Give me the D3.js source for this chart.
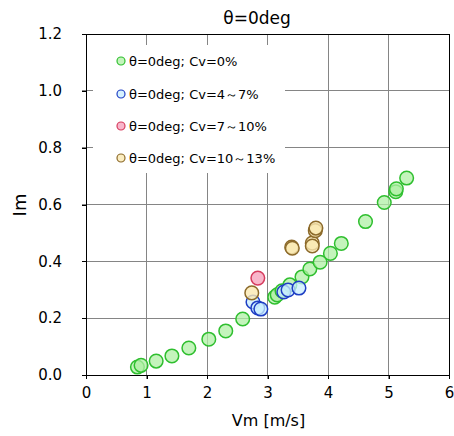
<!DOCTYPE html>
<html>
<head>
<meta charset="utf-8">
<script src="https://cdn.jsdelivr.net/npm/d3@7"></script>
<style>
  html, body { margin: 0; padding: 0; background: #fff; }
  svg { display: block; font-family: "DejaVu Sans", Verdana, sans-serif; }
</style>
</head>
<body>
<svg id="chart" width="454" height="436"></svg>
<script>
// Im vs Vm at θ = 0 deg, grouped by Cv range
const seriesNames = ["θ=0deg; Cv=0%", "θ=0deg; Cv=4～7%", "θ=0deg; Cv=7～10%", "θ=0deg; Cv=10～13%"];

const cv0X  = [0.85, 0.91, 1.16, 1.42, 1.70, 2.03, 2.31, 2.59, 3.12, 3.16, 3.24, 3.37, 3.57, 3.70, 3.87, 4.04, 4.22, 4.62, 4.93, 5.12, 5.13, 5.30];
const cv0Y  = [0.028, 0.034, 0.049, 0.067, 0.095, 0.126, 0.155, 0.197, 0.274, 0.282, 0.296, 0.317, 0.345, 0.373, 0.397, 0.428, 0.463, 0.540, 0.607, 0.645, 0.655, 0.693];

const cv4X  = [2.76, 2.84, 2.89, 3.27, 3.34, 3.52];
const cv4Y  = [0.257, 0.236, 0.232, 0.292, 0.299, 0.306];

const cv7X  = [2.84];
const cv7Y  = [0.341];

const cv10X = [2.74, 3.40, 3.41, 3.74, 3.74, 3.79, 3.80];
const cv10Y = [0.289, 0.450, 0.446, 0.464, 0.454, 0.508, 0.517];

const xTicks = [0, 1, 2, 3, 4, 5, 6];
const yTicks = [0, 0.2, 0.4, 0.6, 0.8, 1.0, 1.2];

const strokes = ["#2fbf2f", "#1f3fc4", "#d63c5e", "#8c6a2a"];
const fills   = ["rgba(176,240,166,0.75)", "rgba(200,238,255,0.75)", "rgba(246,164,190,0.8)", "rgba(250,232,178,0.8)"];

const series = [
  { xs: cv0X,  ys: cv0Y },
  { xs: cv4X,  ys: cv4Y },
  { xs: cv7X,  ys: cv7Y },
  { xs: cv10X, ys: cv10Y }
];

const svg = d3.select("#chart");
const plotL = 86, plotR = 449, plotT = 34, plotB = 375;

const x = d3.scaleLinear().domain([0, 6]).range([plotL, plotR]);
const y = d3.scaleLinear().domain([0, 1.2]).range([plotB, plotT]);

// grid
svg.append("g").selectAll("line").data(xTicks.slice(1, -1)).join("line")
  .attr("x1", d => x(d)).attr("x2", d => x(d))
  .attr("y1", plotT).attr("y2", plotB + 4)
  .attr("stroke", "#858585").attr("stroke-width", 1).attr("shape-rendering", "crispEdges");
svg.append("g").selectAll("line").data(yTicks.slice(1, -1)).join("line")
  .attr("x1", plotL - 4).attr("x2", plotR)
  .attr("y1", d => y(d)).attr("y2", d => y(d))
  .attr("stroke", "#858585").attr("stroke-width", 1).attr("shape-rendering", "crispEdges");

// axes
const xAxis = d3.axisBottom(x).tickValues(xTicks).tickFormat(d3.format("d")).tickSize(4).tickPadding(8);
const yAxis = d3.axisLeft(y).tickValues(yTicks).tickFormat(d3.format(".1f")).tickSize(4).tickPadding(20);

const gx = svg.append("g").attr("transform", `translate(0,${plotB})`).call(xAxis);
const gy = svg.append("g").attr("transform", `translate(${plotL},0)`).call(yAxis);
[gx, gy].forEach(g => {
  g.select(".domain").remove();
  g.selectAll("line").attr("stroke", "#000").attr("shape-rendering", "crispEdges");
  g.selectAll("text").attr("font-size", 15).attr("fill", "#000")
    .attr("font-family", "\"DejaVu Sans\", Verdana, sans-serif");
});

// legend panel
const lg = svg.append("g");
lg.append("rect").attr("x", 93).attr("y", 45).attr("width", 192).attr("height", 128).attr("fill", "#fff");
const rowY = [61, 94, 126, 158];
seriesNames.forEach((name, i) => {
  lg.append("circle").attr("cx", 121).attr("cy", rowY[i]).attr("r", 4)
    .attr("fill", fills[i]).attr("stroke", strokes[i]).attr("stroke-width", 1.2);
  lg.append("text").attr("x", 129).attr("y", rowY[i]).attr("dy", "0.36em")
    .attr("font-size", 13).attr("fill", "#000").text(name);
});

// frame
svg.append("rect").attr("x", plotL).attr("y", plotT).attr("width", plotR - plotL).attr("height", plotB - plotT)
  .attr("fill", "none").attr("stroke", "#000").attr("stroke-width", 1).attr("shape-rendering", "crispEdges");

// points
series.forEach((s, i) => {
  svg.append("g").selectAll("circle").data(s.xs.map((v, j) => [v, s.ys[j]])).join("circle")
    .attr("cx", d => x(d[0])).attr("cy", d => y(d[1])).attr("r", 6.8)
    .attr("fill", fills[i]).attr("stroke", strokes[i]).attr("stroke-width", 1.5);
});

// titles
svg.append("text").attr("x", 257).attr("y", 24).attr("text-anchor", "middle")
  .attr("font-size", 17).attr("fill", "#000").text("θ=0deg");
svg.append("text").attr("x", (plotL + plotR) / 2 + 1).attr("y", 426).attr("text-anchor", "middle")
  .attr("font-size", 16).attr("fill", "#000").text("Vm [m/s]");
svg.append("text").attr("transform", "translate(26,205) rotate(-90)").attr("text-anchor", "middle")
  .attr("font-size", 18).attr("fill", "#000").text("Im");
</script>
</body>
</html>
